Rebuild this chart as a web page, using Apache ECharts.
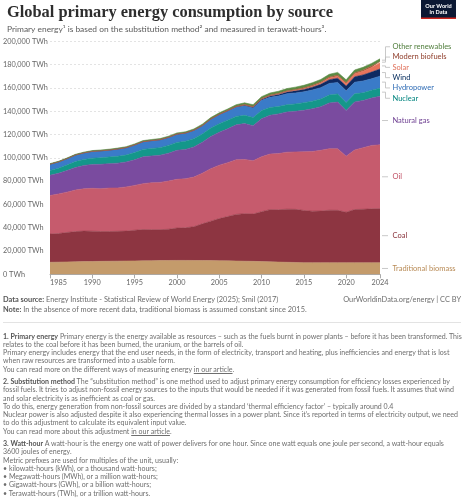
<!DOCTYPE html>
<html>
<head>
  <meta charset="utf-8">
  <title>Global primary energy consumption by source</title>
  <script src="https://cdn.jsdelivr.net/npm/echarts@6/dist/echarts.min.js"></script>
  <style>
    body { margin: 0; background: #fff; font-family: Lato, "Noto Sans", sans-serif; }
    #chart { position: absolute; left: 0; top: 0; width: 464px; height: 500px; }
    .foot { position: absolute; left: 3px; white-space: nowrap; color: #6e6e6e; }
    .src { top: 295px; font-size: 7.4px; line-height: 10.4px; width: 458px; }
    .src b { color: #555; }
    .src .right { position: absolute; right: 0; top: 0; }
    .rule { position: absolute; left: 3px; top: 322px; width: 458px; border-top: 1px solid #e3e3e3; }
    .notes { top: 332.7px; font-size: 7.05px; line-height: 8.25px; }
    .notes p { margin: 0 0 4.2px 0; }
    .notes b { color: #555; }
    .notes u { text-decoration: underline; }
  </style>
</head>
<body>
  <div id="chart"></div>

  <div class="foot src">
    <b>Data source:</b> Energy Institute - Statistical Review of World Energy (2025); Smil (2017)
    <span class="right">OurWorldinData.org/energy | CC BY</span><br>
    <b>Note:</b> In the absence of more recent data, traditional biomass is assumed constant since 2015.
  </div>
  <div class="rule"></div>
  <div class="foot notes">
    <p><b>1. Primary energy</b> Primary energy is the energy available as resources – such as the fuels burnt in power plants – before it has been transformed. This<br>
    relates to the coal before it has been burned, the uranium, or the barrels of oil.<br>
    Primary energy includes energy that the end user needs, in the form of electricity, transport and heating, plus inefficiencies and energy that is lost<br>
    when raw resources are transformed into a usable form.<br>
    You can read more on the different ways of measuring energy <u>in our article</u>.</p>
    <p><b>2. Substitution method</b> The “substitution method” is one method used to adjust primary energy consumption for efficiency losses experienced by<br>
    fossil fuels. It tries to adjust non-fossil energy sources to the inputs that would be needed if it was generated from fossil fuels. It assumes that wind<br>
    and solar electricity is as inefficient as coal or gas.<br>
    To do this, energy generation from non-fossil sources are divided by a standard ‘thermal efficiency factor’ – typically around 0.4<br>
    Nuclear power is also adjusted despite it also experiencing thermal losses in a power plant. Since it’s reported in terms of electricity output, we need<br>
    to do this adjustment to calculate its equivalent input value.<br>
    You can read more about this adjustment <u>in our article</u>.</p>
    <p><b>3. Watt-hour</b> A watt-hour is the energy one watt of power delivers for one hour. Since one watt equals one joule per second, a watt-hour equals<br>
    3600 joules of energy.<br>
    Metric prefixes are used for multiples of the unit, usually:<br>
    • kilowatt-hours (kWh), or a thousand watt-hours;<br>
    • Megawatt-hours (MWh), or a million watt-hours;<br>
    • Gigawatt-hours (GWh), or a billion watt-hours;<br>
    • Terawatt-hours (TWh), or a trillion watt-hours.</p>
  </div>

  <script>
    // years on the x axis
    const years = ['1985','1986','1987','1988','1989','1990','1991','1992','1993','1994',
                   '1995','1996','1997','1998','1999','2000','2001','2002','2003','2004',
                   '2005','2006','2007','2008','2009','2010','2011','2012','2013','2014',
                   '2015','2016','2017','2018','2019','2020','2021','2022','2023','2024'];
    const tickYears = ['1985','1990','1995','2000','2005','2010','2015','2020','2024'];

    // TWh, substitution method
    const tradBiomass = [10300,10450,10600,10750,10900,11000,11100,11200,11300,11400,
                         11500,11600,11700,11800,11850,11900,11900,11850,11800,11750,
                         11700,11550,11400,11250,11100,10900,10700,10500,10300,10150,
                         10000,10000,10000,10000,10000,10000,10000,10000,10000,10000];
    const coal = [24300,24500,25300,25900,26200,26000,25600,25500,25600,25700,
                  26300,26800,26600,26500,26800,27800,28000,29000,31500,33800,
                  36100,38000,40000,40800,40600,42800,44800,44900,45600,45600,
                  44800,44200,44300,45000,44900,43300,45600,45800,46200,46300];
    const oil = [33000,34000,34600,35700,36300,36800,36800,37300,37200,37900,
                 38500,39400,40300,40600,41400,41800,42100,42600,43500,45100,
                 45800,46300,46900,46500,45800,47200,47700,48200,48900,49300,
                 50400,51200,52100,52800,52900,48100,51100,52800,54400,54800];
    const gas = [17500,17700,18500,19300,20000,20500,20900,21000,21300,21400,
                 22000,23000,23000,23300,23900,24900,25200,25900,26600,27600,
                 28400,29000,30000,30800,30100,32600,33300,34100,34500,34800,
                 35600,36600,37500,39300,40000,39300,41300,40600,40700,41800];
    const nuclear = [4100,4400,4800,5100,5200,5400,5600,5700,5900,6000,
                     6200,6400,6400,6500,6700,6800,7000,7100,7000,7300,
                     7300,7400,7200,7100,7000,7100,6700,6300,6300,6400,
                     6500,6600,6600,6800,7000,6700,6900,6600,6700,6900];
    const hydro = [5300,5400,5450,5600,5600,5800,5950,5900,6200,6250,
                   6500,6600,6700,6750,6800,7000,6900,7000,7000,7400,
                   7600,7800,7900,8200,8200,8700,8800,9100,9300,9400,
                   9300,9600,9700,9900,9900,10200,10000,10100,9800,10300];
    const wind = [5,6,7,8,9,10,11,13,15,18,
                  22,25,33,43,57,83,100,140,170,230,
                  270,350,450,570,710,880,1120,1330,1620,1800,
                  2120,2430,2870,3200,3570,3980,4610,5220,5760,6150];
    const solar = [1,1,1,1,1,1,1,1,1,1,
                   1,1,2,2,2,3,3,4,5,7,
                   10,14,20,32,53,87,165,255,350,485,
                   650,840,1120,1460,1760,2130,2570,3220,4050,5240];
    const biofuels = [110,115,120,125,128,130,135,140,145,148,
                      150,148,145,140,135,130,140,160,190,210,
                      250,320,400,520,560,640,650,660,710,780,
                      800,820,860,930,990,900,960,1040,1120,1170];
    const otherRenew = [380,410,440,470,520,560,600,640,680,710,
                        750,790,830,860,900,930,940,1000,1070,1130,
                        1170,1230,1300,1380,1460,1590,1660,1760,1850,1950,
                        2050,2120,2180,2250,2300,2340,2350,2300,2280,2300];

    const names = ['Traditional biomass','Coal','Oil','Natural gas','Nuclear',
                   'Hydropower','Wind','Solar','Modern biofuels','Other renewables'];
    const values = [tradBiomass, coal, oil, gas, nuclear, hydro, wind, solar, biofuels, otherRenew];
    const areaColors = ['#c49b6b','#8d3541','#c65b6d','#7a4b9f','#14978a',
                        '#3a7bc8','#0e2a62','#e8735c','#a05a36','#5b8b44'];
    const textColors = ['#b88a55','#883039','#c15065','#6d3e91','#00847e',
                        '#2f6cb5','#00295b','#e0705a','#8f3d2a','#4f7d3b'];

    const FONT = 'Lato, "Noto Sans", sans-serif';
    let chart = echarts.init(document.getElementById('chart'), null, { renderer: 'canvas' });

    let option = {
      animation: false,
      title: [
        {
          text: 'Global primary energy consumption by source',
          left: 2, top: 0,
          textStyle: { fontFamily: '"Liberation Serif", "DejaVu Serif", serif', fontWeight: 'bold', fontSize: 16.4, color: '#2e2e2e' }
        },
        {
          text: 'Primary energy¹ is based on the substitution method² and measured in terawatt-hours³.',
          left: 2, top: 20,
          textStyle: { fontFamily: FONT, fontWeight: 'normal', fontSize: 8.4, color: '#5b5b5b' }
        }
      ],
      grid: { left: 50, right: 84, top: 41.3, bottom: 225.7, containLabel: false },
      xAxis: {
        type: 'category',
        data: years,
        boundaryGap: false,
        axisLine: { show: true, lineStyle: { color: '#aaa', width: 1 } },
        axisTick: {
          show: true, length: 4,
          interval: function (i, v) { return tickYears.indexOf(v) >= 0; },
          lineStyle: { color: '#aaa' }
        },
        axisLabel: {
          interval: function (i, v) { return tickYears.indexOf(v) >= 0; },
          alignMinLabel: 'left',
          margin: 5,
          color: '#666', fontSize: 7.3, fontFamily: FONT
        },
        splitLine: { show: false }
      },
      yAxis: {
        type: 'value',
        min: 0, max: 200000, interval: 20000,
        axisLine: { show: false },
        axisTick: { show: false },
        axisLabel: {
          align: 'left', margin: 47,
          color: '#666', fontSize: 7.3, fontFamily: FONT,
          formatter: function (v) { return v.toLocaleString('en-US') + ' TWh'; }
        },
        splitLine: { show: true, lineStyle: { color: '#dcdcdc', type: [2, 2], width: 0.8 } }
      },
      series: names.map(function (n, k) {
        return {
          name: n,
          type: 'line',
          stack: 'total',
          data: values[k],
          symbol: 'none',
          // thin edge in the band's own colour hides the seams between areas
          lineStyle: { width: 0.6, color: areaColors[k] },
          areaStyle: { color: areaColors[k], opacity: 1 },
          itemStyle: { color: areaColors[k] },
          z: 2
        };
      })
    };
    chart.setOption(option);

    // right-hand labels: put each one at the middle of its band in 2024, then push apart
    const last = years.length - 1;
    let cum = 0;
    let items = names.map(function (n, k) {
      let v = values[k][last];
      let mid = cum + v / 2;
      cum += v;
      let p = chart.convertToPixel({ gridIndex: 0 }, [last, mid]);
      return { name: n, k: k, want: p[1], y: p[1] };
    });

    function spread(list, gap) {
      list = list.slice().sort(function (a, b) { return a.want - b.want; });
      let groups = list.map(function (it) { return { items: [it], top: it.want }; });
      let merged = true;
      while (merged) {
        merged = false;
        for (let i = 0; i < groups.length - 1; i++) {
          let g = groups[i], h = groups[i + 1];
          let gEnd = g.top + (g.items.length - 1) * gap;
          if (h.top - gEnd < gap) {
            let all = g.items.concat(h.items);
            let mean = all.reduce(function (s, it) { return s + it.want; }, 0) / all.length;
            groups.splice(i, 2, { items: all, top: mean - (all.length - 1) * gap / 2 });
            merged = true;
            break;
          }
        }
      }
      groups.forEach(function (g) {
        g.items.forEach(function (it, j) { it.y = g.top + j * gap; });
      });
    }
    spread(items, 10.3);

    let graphics = [];
    items.forEach(function (it) {
      let pts;
      if (Math.abs(it.y - it.want) < 1) {
        pts = [[382, it.want], [388, it.want]];
      } else {
        pts = [[382, it.want], [385.5, it.want], [385.5, it.y], [390, it.y]];
      }
      graphics.push({
        type: 'polyline',
        shape: { points: pts },
        style: { stroke: '#bbb', lineWidth: 0.8, fill: null },
        silent: true
      });
      graphics.push({
        type: 'text',
        x: 392.5, y: it.y,
        style: {
          text: it.name, fill: textColors[it.k],
          fontSize: 7.5, fontFamily: FONT,
          align: 'left', verticalAlign: 'middle'
        },
        silent: true
      });
    });

    // OWID logo box
    graphics.push({ type: 'rect', shape: { x: 421, y: 0, width: 35, height: 19 }, style: { fill: '#0b1833' } });
    graphics.push({ type: 'rect', shape: { x: 421, y: 17.6, width: 35, height: 1.4 }, style: { fill: '#ce261e' } });
    graphics.push({
      type: 'text', x: 438.5, y: 9,
      style: {
        text: 'Our World\nin Data', fill: '#fff', fontSize: 5.6, fontFamily: FONT, fontWeight: 'bold',
        align: 'center', verticalAlign: 'middle', lineHeight: 6.4
      }
    });

    chart.setOption({ graphic: graphics });
  </script>
</body>
</html>
